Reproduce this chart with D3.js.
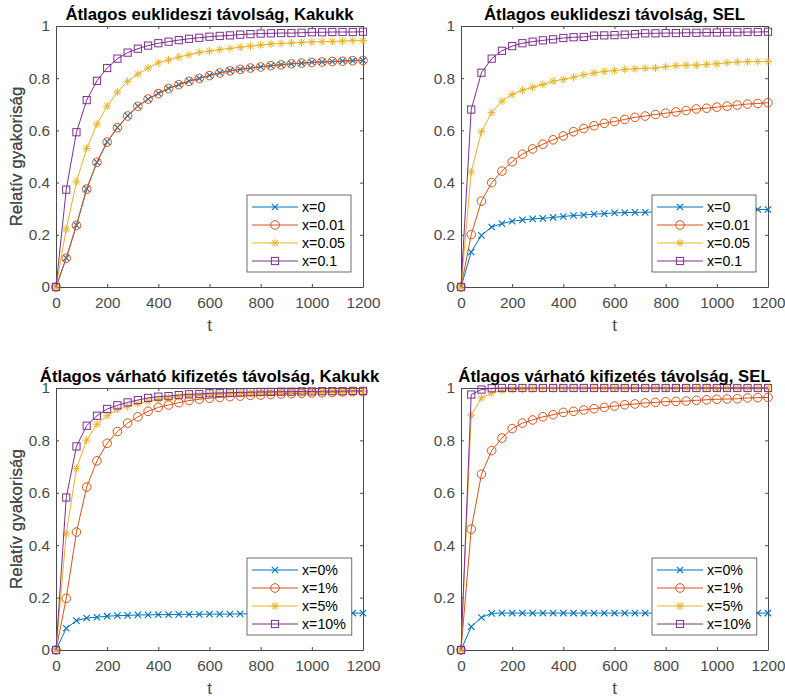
<!DOCTYPE html>
<html>
<head>
<meta charset="utf-8">
<script src="https://cdn.jsdelivr.net/npm/d3@7"></script>
<style>
  html, body { margin: 0; padding: 0; background: #fff; }
  svg { display: block; font-family: "Liberation Sans", Arial, Helvetica, sans-serif; }
</style>
</head>
<body>
<svg id="chart" width="785" height="697"></svg>
<script>
// ---------------- DATA ----------------
const tValues = [0, 40, 80, 120, 160, 200, 240, 280, 320, 360, 400, 440, 480, 520, 560, 600,
  640, 680, 720, 760, 800, 840, 880, 920, 960, 1000, 1040, 1080, 1120, 1160, 1200];

const xTicks = [0, 200, 400, 600, 800, 1000, 1200];
const yTicks = [0, 0.2, 0.4, 0.6, 0.8, 1];

const panelTitles = [
  "Átlagos euklideszi távolság, Kakukk",
  "Átlagos euklideszi távolság, SEL",
  "Átlagos várható kifizetés távolság, Kakukk",
  "Átlagos várható kifizetés távolság, SEL"
];
const yLabelText = "Relatív gyakoriság";
const xLabelText = "t";

const legendLabelsEuk = ["x=0", "x=0.01", "x=0.05", "x=0.1"];
const legendLabelsPay = ["x=0%", "x=1%", "x=5%", "x=10%"];

// Panel 1: euklideszi, Kakukk
const eukKakukk_0   = [0, 0.111, 0.237, 0.376, 0.478, 0.556, 0.611, 0.656, 0.693, 0.720, 0.742, 0.761, 0.776, 0.789, 0.799, 0.811, 0.821, 0.829, 0.834, 0.839, 0.844, 0.848, 0.852, 0.855, 0.858, 0.861, 0.862, 0.864, 0.866, 0.867, 0.868];
const eukKakukk_001 = [0, 0.110, 0.236, 0.375, 0.478, 0.555, 0.610, 0.655, 0.692, 0.720, 0.741, 0.760, 0.775, 0.788, 0.799, 0.810, 0.820, 0.828, 0.834, 0.839, 0.843, 0.848, 0.851, 0.855, 0.858, 0.860, 0.862, 0.864, 0.865, 0.867, 0.868];
const eukKakukk_005 = [0, 0.222, 0.403, 0.531, 0.624, 0.693, 0.747, 0.788, 0.816, 0.839, 0.859, 0.870, 0.881, 0.890, 0.899, 0.904, 0.910, 0.914, 0.919, 0.923, 0.927, 0.931, 0.933, 0.935, 0.937, 0.939, 0.940, 0.941, 0.942, 0.944, 0.944];
const eukKakukk_01  = [0, 0.373, 0.593, 0.716, 0.790, 0.839, 0.875, 0.898, 0.913, 0.925, 0.934, 0.940, 0.946, 0.951, 0.955, 0.959, 0.962, 0.964, 0.967, 0.969, 0.971, 0.972, 0.973, 0.973, 0.974, 0.976, 0.976, 0.977, 0.977, 0.977, 0.978];

// Panel 2: euklideszi, SEL
const eukSEL_0   = [0, 0.134, 0.198, 0.230, 0.243, 0.252, 0.257, 0.261, 0.263, 0.267, 0.270, 0.274, 0.276, 0.279, 0.281, 0.284, 0.285, 0.286, 0.286, 0.288, 0.289, 0.290, 0.291, 0.292, 0.293, 0.294, 0.295, 0.296, 0.296, 0.297, 0.297];
const eukSEL_001 = [0, 0.201, 0.329, 0.400, 0.444, 0.480, 0.509, 0.529, 0.547, 0.564, 0.579, 0.595, 0.607, 0.618, 0.627, 0.634, 0.642, 0.650, 0.655, 0.661, 0.666, 0.671, 0.676, 0.682, 0.685, 0.689, 0.693, 0.697, 0.701, 0.703, 0.706];
const eukSEL_005 = [0, 0.441, 0.595, 0.668, 0.712, 0.738, 0.754, 0.765, 0.776, 0.789, 0.795, 0.804, 0.813, 0.820, 0.826, 0.829, 0.834, 0.836, 0.838, 0.839, 0.844, 0.848, 0.850, 0.850, 0.853, 0.855, 0.859, 0.862, 0.863, 0.864, 0.864];
const eukSEL_01  = [0, 0.680, 0.821, 0.875, 0.905, 0.923, 0.934, 0.940, 0.945, 0.949, 0.954, 0.957, 0.958, 0.963, 0.964, 0.965, 0.967, 0.969, 0.972, 0.972, 0.973, 0.973, 0.974, 0.974, 0.975, 0.975, 0.976, 0.976, 0.977, 0.977, 0.978];

// Panel 3: várható kifizetés, Kakukk
const payKakukk_0  = [0, 0.083, 0.112, 0.122, 0.125, 0.129, 0.131, 0.132, 0.134, 0.134, 0.135, 0.135, 0.136, 0.136, 0.136, 0.137, 0.137, 0.137, 0.138, 0.138, 0.138, 0.139, 0.139, 0.139, 0.139, 0.140, 0.140, 0.140, 0.140, 0.141, 0.141];
const payKakukk_1  = [0, 0.197, 0.450, 0.622, 0.722, 0.789, 0.834, 0.866, 0.890, 0.911, 0.926, 0.935, 0.944, 0.952, 0.957, 0.961, 0.964, 0.967, 0.969, 0.972, 0.973, 0.975, 0.977, 0.978, 0.980, 0.981, 0.982, 0.983, 0.985, 0.986, 0.986];
const payKakukk_5  = [0, 0.443, 0.693, 0.801, 0.862, 0.894, 0.917, 0.930, 0.940, 0.950, 0.957, 0.962, 0.967, 0.971, 0.973, 0.976, 0.977, 0.978, 0.979, 0.980, 0.981, 0.982, 0.983, 0.983, 0.984, 0.985, 0.985, 0.986, 0.986, 0.987, 0.987];
const payKakukk_10 = [0, 0.582, 0.777, 0.856, 0.894, 0.920, 0.934, 0.945, 0.954, 0.962, 0.967, 0.969, 0.973, 0.976, 0.977, 0.980, 0.981, 0.982, 0.983, 0.984, 0.985, 0.985, 0.986, 0.986, 0.987, 0.987, 0.988, 0.988, 0.988, 0.989, 0.989];

// Panel 4: várható kifizetés, SEL
const paySEL_0  = [0, 0.089, 0.124, 0.140, 0.141, 0.141, 0.141, 0.141, 0.141, 0.141, 0.141, 0.141, 0.141, 0.141, 0.141, 0.141, 0.141, 0.141, 0.141, 0.141, 0.141, 0.141, 0.141, 0.141, 0.141, 0.141, 0.141, 0.141, 0.141, 0.141, 0.141];
const paySEL_1  = [0, 0.461, 0.671, 0.761, 0.809, 0.845, 0.866, 0.878, 0.890, 0.898, 0.907, 0.911, 0.916, 0.921, 0.926, 0.931, 0.936, 0.939, 0.943, 0.945, 0.948, 0.949, 0.950, 0.953, 0.955, 0.957, 0.958, 0.959, 0.962, 0.963, 0.964];
const paySEL_5  = [0, 0.896, 0.962, 0.981, 0.990, 0.994, 0.996, 0.997, 0.998, 0.998, 0.999, 0.999, 0.999, 0.999, 1.000, 1.000, 1.000, 1.000, 1.000, 1.000, 1.000, 1.000, 1.000, 1.000, 1.000, 1.000, 1.000, 1.000, 1.000, 1.000, 1.000];
const paySEL_10 = [0, 0.975, 0.994, 0.999, 1.000, 1.000, 1.000, 1.000, 1.000, 1.000, 1.000, 1.000, 1.000, 1.000, 1.000, 1.000, 1.000, 1.000, 1.000, 1.000, 1.000, 1.000, 1.000, 1.000, 1.000, 1.000, 1.000, 1.000, 1.000, 1.000, 1.000];

// ---------------- STYLE / LAYOUT ----------------
const seriesColors = ["#0072BD", "#D95319", "#EDB120", "#7E2F8E"];
const markerTypes = ["x", "o", "*", "s"];

const panels = [
  { title: panelTitles[0], series: [eukKakukk_0, eukKakukk_001, eukKakukk_005, eukKakukk_01], labels: legendLabelsEuk, left: 56,  top: 26,  width: 307, height: 261 },
  { title: panelTitles[1], series: [eukSEL_0, eukSEL_001, eukSEL_005, eukSEL_01],             labels: legendLabelsEuk, left: 461, top: 26,  width: 307, height: 261 },
  { title: panelTitles[2], series: [payKakukk_0, payKakukk_1, payKakukk_5, payKakukk_10],     labels: legendLabelsPay, left: 56,  top: 388, width: 307, height: 262 },
  { title: panelTitles[3], series: [paySEL_0, paySEL_1, paySEL_5, paySEL_10],                 labels: legendLabelsPay, left: 461, top: 388, width: 307, height: 262 }
];

const axisColor = "#4a4a4a";
const tickTextColor = "#4a4a4a";
const fontFam = '"Liberation Sans", Arial, sans-serif';

const svg = d3.select("#chart");

function drawMarker(g, type, color) {
  if (type === "o") {
    g.append("circle").attr("r", 4.3).attr("fill", "none").attr("stroke", color).attr("stroke-width", 1);
  } else if (type === "s") {
    g.append("rect").attr("x", -3.6).attr("y", -3.6).attr("width", 7.2).attr("height", 7.2)
      .attr("fill", "none").attr("stroke", color).attr("stroke-width", 1);
  } else if (type === "x") {
    g.append("path").attr("d", "M-3.2,-3.2L3.2,3.2M-3.2,3.2L3.2,-3.2")
      .attr("fill", "none").attr("stroke", color).attr("stroke-width", 1.1);
  } else if (type === "*") {
    g.append("path").attr("d", "M-4,0L4,0M0,-4L0,4M-2.9,-2.9L2.9,2.9M-2.9,2.9L2.9,-2.9")
      .attr("fill", "none").attr("stroke", color).attr("stroke-width", 1);
  }
}

panels.forEach(p => {
  const x = d3.scaleLinear().domain([0, 1200]).range([0, p.width]);
  const y = d3.scaleLinear().domain([0, 1]).range([p.height, 0]);
  const g = svg.append("g").attr("transform", `translate(${p.left},${p.top})`);

  const styleAxis = (sel, showLabels) => {
    sel.selectAll("path.domain").attr("stroke", axisColor).attr("stroke-width", 1);
    sel.selectAll(".tick line").attr("stroke", axisColor).attr("stroke-width", 1);
    sel.selectAll(".tick text").attr("fill", tickTextColor).style("font-size", "15.3px")
      .style("font-family", fontFam);
    if (!showLabels) sel.selectAll(".tick text").remove();
  };

  const xAxis = d3.axisBottom(x).tickValues(xTicks).tickSizeInner(-3).tickSizeOuter(0).tickPadding(10).tickFormat(d3.format("d"));
  g.append("g").attr("transform", `translate(0,${p.height})`).call(xAxis).call(s => styleAxis(s, true));
  const xAxisTop = d3.axisTop(x).tickValues(xTicks).tickSizeInner(-3).tickSizeOuter(0);
  g.append("g").call(xAxisTop).call(s => styleAxis(s, false));

  const yAxis = d3.axisLeft(y).tickValues(yTicks).tickSizeInner(-3).tickSizeOuter(0).tickPadding(6).tickFormat(d => d3.format("~g")(d));
  g.append("g").call(yAxis).call(s => styleAxis(s, true));
  const yAxisRight = d3.axisRight(y).tickValues(yTicks).tickSizeInner(-3).tickSizeOuter(0);
  g.append("g").attr("transform", `translate(${p.width},0)`).call(yAxisRight).call(s => styleAxis(s, false));

  const line = d3.line().x((d, i) => x(tValues[i])).y(d => y(d));
  p.series.forEach((vals, si) => {
    const color = seriesColors[si];
    g.append("path").datum(vals).attr("d", line).attr("fill", "none")
      .attr("stroke", color).attr("stroke-width", 1);
    vals.forEach((v, i) => {
      const mg = g.append("g").attr("transform", `translate(${x(tValues[i])},${y(v)})`);
      drawMarker(mg, markerTypes[si], color);
    });
  });

  // Title
  g.append("text").attr("x", p.width / 2).attr("y", -6).attr("text-anchor", "middle")
    .style("font-size", "16.8px").style("font-weight", "bold").style("font-family", fontFam)
    .attr("fill", "#000").text(p.title);

  // Axis labels
  g.append("text").attr("x", p.width / 2).attr("y", p.height + 44).attr("text-anchor", "middle")
    .style("font-size", "17px").style("font-family", fontFam).attr("fill", "#4a4a4a").text(xLabelText);
  g.append("text").attr("transform", `translate(${-p.left + 22},${p.height / 2}) rotate(-90)`)
    .attr("text-anchor", "middle").style("font-size", "17px").style("font-family", fontFam)
    .attr("fill", "#4a4a4a").text(yLabelText);

  // Legend
  const lg = g.append("g");
  const rowH = 18;
  const boxH = 77;
  const texts = [];
  p.labels.forEach((lab, i) => {
    const t = lg.append("text").attr("x", 55).attr("y", 12 + i * rowH).attr("dy", "0.36em")
      .style("font-size", "14.2px").style("font-family", fontFam).attr("fill", "#000").text(lab);
    texts.push(t);
  });
  const maxW = d3.max(texts, t => t.node().getComputedTextLength());
  const boxW = 55 + maxW + 6;
  lg.insert("rect", ":first-child").attr("x", 0).attr("y", 0).attr("width", boxW).attr("height", boxH)
    .attr("fill", "#fff").attr("stroke", "#4a4a4a").attr("stroke-width", 0.8);
  p.labels.forEach((lab, i) => {
    const cy = 12 + i * rowH;
    lg.append("line").attr("x1", 5).attr("x2", 51).attr("y1", cy).attr("y2", cy)
      .attr("stroke", seriesColors[i]).attr("stroke-width", 1);
    const mg = lg.append("g").attr("transform", `translate(28,${cy})`);
    drawMarker(mg, markerTypes[i], seriesColors[i]);
  });
  lg.attr("transform", `translate(191,${p.height - 15 - boxH})`);
});
</script>
</body>
</html>
